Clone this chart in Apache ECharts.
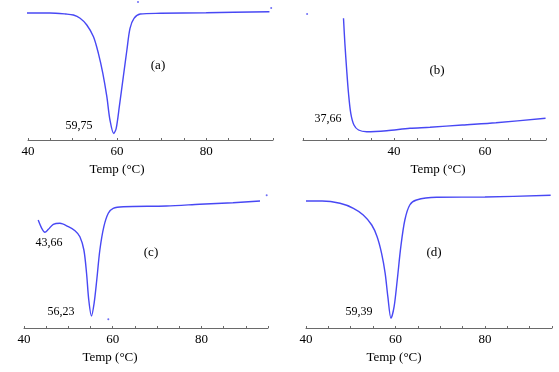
<!DOCTYPE html>
<html>
<head>
<meta charset="utf-8">
<script src="https://cdn.jsdelivr.net/npm/echarts@6/dist/echarts.min.js"></script>
<style>
html,body{margin:0;padding:0;background:#fff;}
#c{width:559px;height:372px;}
</style>
</head>
<body>
<div id="c"></div>
<script>
// Panel (a)
const tempA = [39.2, 44.9, 48.5, 50.2, 51.7, 53.2, 54.7, 55.8, 56.8, 57.7, 58.4, 59.25, 59.8, 60.5, 61.4, 62.2, 62.9, 63.8, 65.2, 69.7, 80, 94.2];
const flowA = [127, 127, 126, 125, 121.7, 115, 103.3, 86.7, 66.7, 43.3, 20, 6.5, 11.7, 33.3, 63.3, 90, 111.7, 121.7, 126, 126.7, 127.3, 128.3];
// Panel (b)
const tempB = [28.9, 29.2, 29.6, 30.0, 30.5, 31.2, 32.2, 34.0, 38.4, 43.5, 47.9, 55, 62.4, 73.3];
const flowB = [121.7, 96.7, 70, 46.7, 26.7, 15, 10, 8.3, 9.3, 11.7, 12.7, 15, 17.3, 21.7];
// Panel (c)
const tempC = [43.2, 44.0, 44.7, 45.5, 46.6, 48.1, 50.0, 51.5, 52.6, 53.5, 54.1, 54.6, 55.2, 55.8, 56.4, 57.1, 58.0, 59.0, 60.1, 62.4, 72.1, 79.6, 87.1, 93.2];
const flowC = [108, 99.7, 95.7, 98.7, 103.7, 104.7, 101.3, 97.3, 91.3, 78, 54.7, 28, 12, 24.7, 48, 78, 101.3, 114.7, 119.7, 121.3, 122, 123.7, 125.3, 127];
// Panel (d)
const tempD = [40, 43.6, 47.6, 50.6, 52.8, 54.7, 55.9, 56.9, 57.7, 58.3, 59.0, 59.7, 60.4, 61.2, 62.1, 63.2, 64.7, 69.2, 80, 94.7];
const flowD = [127, 127, 124.7, 119.7, 113, 103, 91.3, 74.7, 54.7, 31.3, 9.7, 21.3, 48, 81.3, 108, 123, 128, 130.7, 131, 132.7];
// stray dots
const dotsA = [[64.7, 138], [94.6, 132]];
const dotsB = [[20.9, 126]];
const dotsC = [[94.7, 132.7], [59.0, 8.7]];
// axis tick labels and names
const tickValues = [40, 60, 80];
const axisName = 'Temp (°C)';
const panelTags = ['(a)', '(b)', '(c)', '(d)'];
const peakLabels = ['59,75', '37,66', '43,66', '56,23', '59,39'];
const xRanges = [[40, 95], [20, 73.4], [40, 95], [40, 95]];

const zip = (xs, ys) => xs.map((x, i) => [x, ys[i]]);
const FONT = 'Liberation Serif';
const BLUE = '#4848f4';

const grids = [
  {left: 28, top: 0, width: 245, height: 140},
  {left: 303, top: 0, width: 243, height: 140},
  {left: 24, top: 188, width: 244, height: 140},
  {left: 306, top: 188, width: 246, height: 140}
];

const xAxes = grids.map((g, i) => ({
  type: 'value', gridIndex: i, min: xRanges[i][0], max: xRanges[i][1], interval: 20,
  axisLine: {show: true, onZero: false, lineStyle: {color: '#6a6a6a', width: 1}},
  axisTick: {show: true, inside: true, length: 2, lineStyle: {color: '#6a6a6a'}},
  minorTick: {show: true, splitNumber: 4, length: 2, lineStyle: {color: '#6a6a6a'}},
  splitLine: {show: false},
  axisLabel: {
    margin: 5, color: '#000', fontFamily: FONT, fontSize: 13,
    formatter: v => tickValues.includes(v) ? String(v) : ''
  }
}));
xAxes.forEach(a => { a.minorTick.inside = true; });

const yAxes = grids.map((g, i) => ({
  type: 'value', gridIndex: i, min: 0, max: 140, show: false
}));

const lineStyle = {color: BLUE, width: 1.4};
const mkLine = (i, data) => ({
  type: 'line', xAxisIndex: i, yAxisIndex: i, data, smooth: 0.3,
  showSymbol: false, symbol: 'none', lineStyle, clip: false, animation: false
});
const mkDots = (i, data) => ({
  type: 'scatter', xAxisIndex: i, yAxisIndex: i, data, symbolSize: 2,
  itemStyle: {color: BLUE}, clip: false, animation: false
});

const txt = (x, y, s, size) => ({
  type: 'text', x, y,
  style: {text: s, fill: '#000', font: size + 'px "' + FONT + '"', textAlign: 'center', textVerticalAlign: 'middle'}
});

const option = {
  backgroundColor: '#fff',
  animation: false,
  grid: grids,
  xAxis: xAxes,
  yAxis: yAxes,
  series: [
    mkLine(0, zip(tempA, flowA)),
    mkLine(1, zip(tempB, flowB)),
    mkLine(2, zip(tempC, flowC)),
    mkLine(3, zip(tempD, flowD)),
    mkDots(0, dotsA), mkDots(1, dotsB), mkDots(2, dotsC)
  ],
  graphic: [
    txt(158, 66, panelTags[0], 13),
    txt(437, 71, panelTags[1], 13),
    txt(151, 253, panelTags[2], 13),
    txt(434, 253, panelTags[3], 13),
    txt(79, 126, peakLabels[0], 12),
    txt(328, 119, peakLabels[1], 12),
    txt(49, 243, peakLabels[2], 12),
    txt(61, 312, peakLabels[3], 12),
    txt(359, 312, peakLabels[4], 12),
    txt(117, 170, axisName, 13),
    txt(438, 170, axisName, 13),
    txt(110, 358, axisName, 13),
    txt(394, 358, axisName, 13)
  ]
};
const chart = echarts.init(document.getElementById('c'), null, {renderer: 'canvas'});
chart.setOption(option);
</script>
</body>
</html>
